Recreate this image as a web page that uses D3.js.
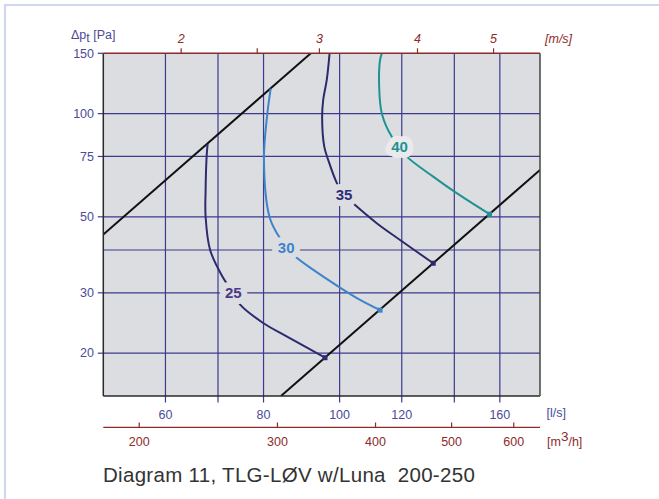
<!DOCTYPE html>
<html><head><meta charset="utf-8">
<script src="https://cdn.jsdelivr.net/npm/d3@7"></script>
<style>
html,body{margin:0;padding:0;background:#fff;}
svg{display:block;font-family:"Liberation Sans",Arial,Helvetica,sans-serif;}
</style></head>
<body>
<svg id="chart" width="659" height="499"></svg>
<script>
// ---- data ----
const flowDomain = [50, 180];          // l/s
const pressureDomain = [15, 150];      // Pa
const flowGrid = [60, 70, 80, 100, 120, 140, 160];
const flowLabels = [60, 80, 100, 120, 160];
const pressureGrid = [20, 30, 40, 50, 75, 100];
const pressureLabels = [20, 30, 50, 75, 100, 150];
const m3hLabels = [200, 300, 400, 500, 600];
const velocityTicks = [2, 2.5, 3, 4, 5];
const velocityLabels = [2, 3, 4, 5];
const ductDiameter = 0.2; // m
// system limit lines: dp = k * q^2  (given as two end points)
const limitUpper = [[50, 44.4], [91.9, 150]];
const limitLower = [[84.2, 15], [180, 68.5]];
// sound level curves [l/s, Pa]
const curve25 = [[67.9, 81.6], [67.7, 75], [67.5, 60], [67.5, 50], [68.4, 40], [70.9, 33.5], [73.2, 30], [74.7, 27.7], [79.9, 24.5], [85.6, 22.4], [95.8, 19.4]];
const curve30 = [[81.7, 118.3], [80.9, 100], [80.1, 73.3], [81.4, 50], [83.2, 44.8], [85.5, 40.9], [87.8, 38.3], [92.6, 35.0], [99.0, 31.6], [106.2, 28.6], [112.6, 26.7]];
const curve35 = [[97.1, 150], [96.3, 125.4], [95.3, 109.6], [95.0, 98.0], [95.6, 80.1], [96.7, 73.3], [99.2, 62.7], [101.3, 57.9], [103.6, 55.2], [111.5, 47.9], [119.4, 42.8], [131.6, 36.6]];
const curve40 = [[113.2, 150], [112.6, 143.4], [112.3, 119.8], [113.2, 100], [116.5, 85.7], [119.2, 80.1], [121.8, 74.9], [131.6, 65.5], [141.0, 58.6], [155.2, 50.9]];
const curveNames = ["25", "30", "35", "40"];
const curveLabelPos = [[73.2, 30], [85.5, 40.6], [101.3, 57.9], [119.2, 80.1]];

// ---- layout ----
const svg = d3.select("#chart");
const L = 103.3, R = 540, T = 53.3, B = 396;
const x = d3.scaleLog().domain(flowDomain).range([L, R]);
const y = d3.scaleLog().domain(pressureDomain).range([B, T]);
const area = Math.PI * ductDiameter * ductDiameter / 4;
const velToFlow = v => v * area * 1000;
const m3hToFlow = m => m / 3.6;

const gridCol = "#3b3a8c", blueTxt = "#4b4b97", redCol = "#8e2a2a";

// frame
svg.append("line").attr("x1", 5).attr("x2", 5).attr("y1", 4).attr("y2", 499).attr("stroke", "#d0d8ee").attr("stroke-width", 2.2);
svg.append("line").attr("x1", 4).attr("x2", 659).attr("y1", 5).attr("y2", 5).attr("stroke", "#d0d8ee").attr("stroke-width", 2.2);

// plot background
svg.append("rect").attr("x", L).attr("y", T).attr("width", R - L).attr("height", B - T).attr("fill", "#dcdde0");

// grid
const g = svg.append("g");
g.selectAll(".vx").data(flowGrid).join("line")
  .attr("x1", d => x(d)).attr("x2", d => x(d)).attr("y1", T).attr("y2", B)
  .attr("stroke", gridCol).attr("stroke-width", 1.2);
g.selectAll(".hy").data(pressureGrid).join("line")
  .attr("x1", L).attr("x2", R).attr("y1", d => y(d)).attr("y2", d => y(d))
  .attr("stroke", gridCol).attr("stroke-width", 1.2);

// left axis
svg.selectAll(".lt").data(pressureLabels).join("line")
  .attr("x1", L - 5.5).attr("x2", L).attr("y1", d => y(d)).attr("y2", d => y(d))
  .attr("stroke", gridCol).attr("stroke-width", 1.2);
svg.selectAll(".ll").data(pressureLabels).join("text")
  .attr("x", 94).attr("y", d => y(d) + 4.3).attr("text-anchor", "end")
  .attr("font-size", 12.5).attr("fill", blueTxt).text(d => d);
const yl = svg.append("text").attr("x", 71).attr("y", 38.5).attr("font-size", 12.5).attr("fill", blueTxt);
yl.append("tspan").text("Δp");
yl.append("tspan").attr("dy", 3.5).attr("font-size", 12.5).text("t");
yl.append("tspan").attr("dy", -3.5).text(" [Pa]");

// bottom l/s axis
svg.selectAll(".bt").data(flowGrid).join("line")
  .attr("x1", d => x(d)).attr("x2", d => x(d)).attr("y1", B).attr("y2", B + 6.5)
  .attr("stroke", gridCol).attr("stroke-width", 1.2);
svg.selectAll(".bl").data(flowLabels).join("text")
  .attr("x", d => x(d)).attr("y", 418.5).attr("text-anchor", "middle")
  .attr("font-size", 12.5).attr("fill", blueTxt).text(d => d);
svg.append("text").attr("x", 546.5).attr("y", 416.5).attr("font-size", 12.5).attr("fill", blueTxt).text("[l/s]");

// m3/h axis
svg.append("line").attr("x1", L).attr("x2", R).attr("y1", 427.3).attr("y2", 427.3).attr("stroke", redCol).attr("stroke-width", 1.3);
svg.selectAll(".mt").data(m3hLabels).join("line")
  .attr("x1", d => x(m3hToFlow(d))).attr("x2", d => x(m3hToFlow(d))).attr("y1", 427.3).attr("y2", 422.5)
  .attr("stroke", redCol).attr("stroke-width", 1.2);
svg.selectAll(".ml").data(m3hLabels).join("text")
  .attr("x", d => x(m3hToFlow(d))).attr("y", 446).attr("text-anchor", "middle")
  .attr("font-size", 12.5).attr("fill", redCol).text(d => d);
const ml = svg.append("text").attr("x", 547).attr("y", 446).attr("font-size", 12.5).attr("fill", redCol);
ml.append("tspan").text("[m");
ml.append("tspan").attr("dy", -5).attr("font-size", 13.5).text("3");
ml.append("tspan").attr("dy", 5).text("/h]");

// top m/s axis
svg.selectAll(".tt").data(velocityTicks).join("line")
  .attr("x1", d => x(velToFlow(d))).attr("x2", d => x(velToFlow(d))).attr("y1", T).attr("y2", T - 5)
  .attr("stroke", redCol).attr("stroke-width", 1.2);
svg.selectAll(".tl").data(velocityLabels).join("text")
  .attr("x", d => x(velToFlow(d))).attr("y", 42.5).attr("text-anchor", "middle")
  .attr("font-size", 12.5).attr("font-style", "italic").attr("fill", redCol).text(d => d);
svg.append("text").attr("x", 545).attr("y", 42.5).attr("font-size", 12.5).attr("font-style", "italic").attr("fill", redCol).text("[m/s]");

// clip
svg.append("clipPath").attr("id", "clip").append("rect").attr("x", L).attr("y", T).attr("width", R - L).attr("height", B - T);
const plot = svg.append("g").attr("clip-path", "url(#clip)");

// limit lines (dp ∝ q²)
const lineGen = d3.line().x(d => x(d[0])).y(d => y(d[1]));
[limitUpper, limitLower].forEach(p => {
  plot.append("path").attr("d", lineGen(p)).attr("fill", "none").attr("stroke", "#111").attr("stroke-width", 2);
});

// sound curves
const curves = [curve25, curve30, curve35, curve40];
const colors = ["#2e2a70", "#3d84cc", "#2b2a6a", "#1e9393"];
const labelColors = ["#4a3888", "#3d84cc", "#2f2c78", "#1e9393"];
const smooth = d3.line().x(d => x(d[0])).y(d => y(d[1])).curve(d3.curveCatmullRom.alpha(0.5));
curves.forEach((c, i) => {
  plot.append("path").attr("d", smooth(c)).attr("fill", "none").attr("stroke", colors[i]).attr("stroke-width", 2);
  const e = c[c.length - 1];
  plot.append("rect").attr("x", x(e[0]) - 2.5).attr("y", y(e[1]) - 2.5).attr("width", 5).attr("height", 5).attr("fill", colors[i]);
});

// curve labels with halo
curveNames.forEach((n, i) => {
  const p = curveLabelPos[i];
  svg.append("text").attr("x", x(p[0])).attr("y", y(p[1]) + 5.5)
    .attr("text-anchor", "middle").attr("font-size", 15).attr("font-weight", "bold")
    .attr("fill", labelColors[i]).attr("stroke", i === 3 ? "#eaeaec" : "#dcdde0").attr("stroke-width", 12)
    .attr("paint-order", "stroke").attr("stroke-linejoin", "round").text(n);
});

// plot border
svg.append("line").attr("x1", L).attr("x2", L).attr("y1", T).attr("y2", B).attr("stroke", "#2a2a2a").attr("stroke-width", 1.5);
svg.append("line").attr("x1", L).attr("x2", R).attr("y1", B).attr("y2", B).attr("stroke", "#2a2a2a").attr("stroke-width", 1.5);
svg.append("line").attr("x1", R).attr("x2", R).attr("y1", T).attr("y2", B).attr("stroke", "#444").attr("stroke-width", 1.5);
svg.append("line").attr("x1", L).attr("x2", R).attr("y1", T).attr("y2", T).attr("stroke", redCol).attr("stroke-width", 1.5);

// title
svg.append("text").attr("x", 103).attr("y", 482).attr("font-size", 20.5).attr("letter-spacing", 0.3).attr("fill", "#333")
  .attr("xml:space", "preserve").style("white-space", "pre").text("Diagram 11, TLG-LØV w/Luna  200-250");
</script>
</body></html>
